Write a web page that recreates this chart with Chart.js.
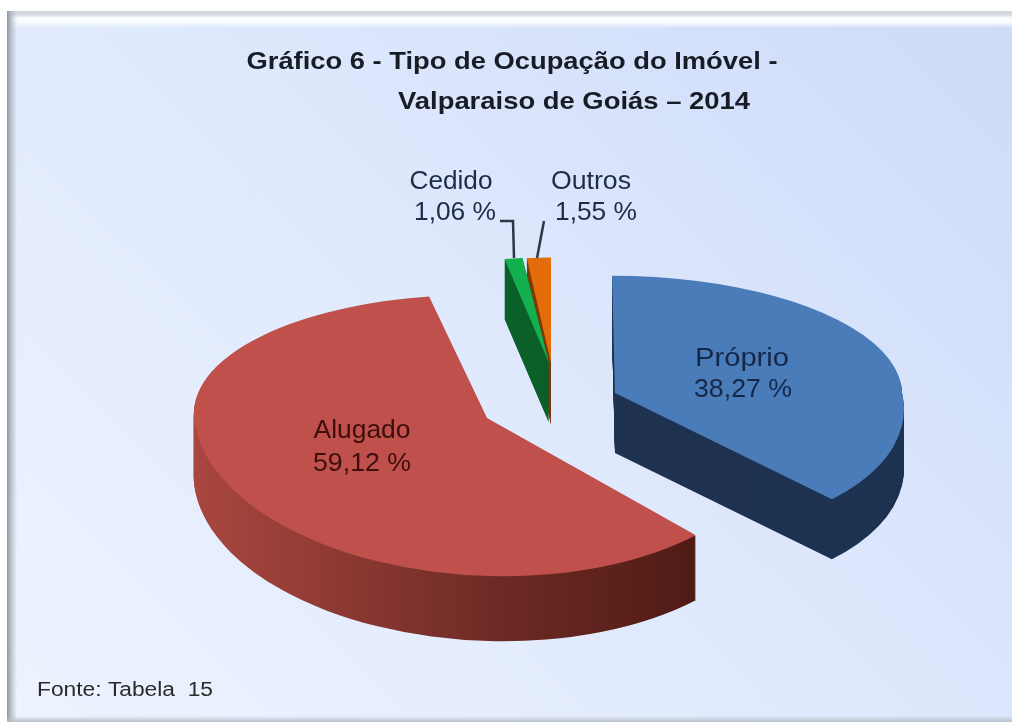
<!DOCTYPE html>
<html lang="pt">
<head>
<meta charset="utf-8">
<title>Gráfico 6</title>
<script src="https://cdn.jsdelivr.net/npm/chart.js@4/dist/chart.umd.min.js"></script>
<style>
    html, body { margin: 0; background: #fff; }
    #quadro {
        position: absolute; left: 7px; top: 11px; width: 1005px; height: 711px;
        box-sizing: border-box;
        background: linear-gradient(45deg, #edf3ff 0%, #dfe9fd 50%, #cddbf8 100%);
    }
    #faixaTopo {
        position: absolute; left: 0; right: 0; top: 0; height: 17px;
        background: linear-gradient(#cfd3da 0, #d9dde6 4px, #fbfdff 7px, #f6faff 12px, rgba(240,246,255,0) 17px);
    }
    #faixaEsq {
        position: absolute; left: 0; top: 0; bottom: 0; width: 10px;
        background: linear-gradient(90deg, #8a929c 0, #b3bac4 3px, rgba(220,230,250,0) 10px);
    }
    #faixaBase {
        position: absolute; left: 0; right: 0; bottom: 0; height: 6px;
        background: linear-gradient(rgba(220,230,250,0), #b9c0ca);
    }
    canvas { position: absolute; left: 0; top: 0; }
</style>
</head>
<body>
<div id="quadro"><div id="faixaTopo"></div><div id="faixaEsq"></div><div id="faixaBase"></div></div>
<canvas id="grafico" width="1012" height="725"></canvas>
<script>
const categorias = ['Próprio', 'Alugado', 'Cedido', 'Outros'];
const valores = [38.27, 59.12, 1.06, 1.55];
const rotulos = ['38,27 %', '59,12 %', '1,06 %', '1,55 %'];

const COLORES = ['#4a7cba', '#bf504c', '#12b04f', '#e46c0a'];
const LATERAIS = [
    ['#1f3552', '#1f3350', '#1d3150'],
    ['#a8463f', '#6c2a24', '#4f1a14'],
    ['#0a6a2c', '#0a5f28', '#0a5a26'],
    ['#8a4508', '#7a3a05', '#6e3404']
];

// centro de cada fatia; metade de tras e da frente achatadas em separado (falsa perspectiva)
const FATIAS = [
    { i: 1, cx: 487, cy: 418, sx: 1, syTras: 0.42, syFrente: 0.54, skTras: 0.035, skFrente: 0.055, prof: 65 },
    { i: 0, cx: 615, cy: 393, sx: 0.98, syTras: 0.40, syFrente: 0.49, skTras: 0.01, skFrente: 0.11, prof: 60 },
    { i: 3, cx: 551, cy: 363, sx: 0.85, syTras: 0.36, syFrente: 0.36, skTras: 0, skFrente: 0, prof: 62 },
    { i: 2, cx: 549, cy: 363, sx: 0.93, syTras: 0.36, syFrente: 0.36, skTras: 0, skFrente: 0, prof: 60 }
];

const TEXTOS = [
    { t: 'Gráfico 6 - Tipo de Ocupação do Imóvel -', x: 512, y: 62, f: 'bold 24px', w: 531, c: '#181c26' },
    { t: 'Valparaiso de Goiás – 2014', x: 574, y: 102, f: 'bold 24px', w: 352, c: '#181c26' },
    { t: categorias[0], x: 742, y: 359, f: '25px', w: 94, c: '#14284a' },
    { t: rotulos[0], x: 743, y: 390, f: '25px', w: 98, c: '#14284a' },
    { t: categorias[1], x: 362, y: 431, f: '25px', w: 97, c: '#3c0f0c' },
    { t: rotulos[1], x: 362, y: 464, f: '25px', w: 98, c: '#3c0f0c' },
    { t: categorias[2], x: 451, y: 182, f: '25px', w: 83, c: '#1f2d44' },
    { t: rotulos[2], x: 455, y: 213, f: '25px', w: 82, c: '#1f2d44' },
    { t: categorias[3], x: 591, y: 182, f: '25px', w: 80, c: '#1f2d44' },
    { t: rotulos[3], x: 596, y: 213, f: '25px', w: 82, c: '#1f2d44' },
    { t: 'Fonte: Tabela  15', x: 125, y: 690, f: '20px', w: 176, c: '#2a2a2a' }
];

const LIGACOES = [
    [[500, 221], [513, 221], [514, 258]],
    [[544, 221], [537, 258]]
];

function pintarMetade(ctx, arco, f, dy, sy, sk, frente) {
    ctx.save();
    ctx.transform(f.sx, 0, sk, sy, f.cx, f.cy + dy);
    ctx.translate(-arco.x, -arco.y);
    ctx.beginPath();
    if (frente) {
        ctx.rect(arco.x - 400, arco.y - 0.5, 800, 400);
    } else {
        ctx.rect(arco.x - 400, arco.y - 400, 800, 400.5);
    }
    ctx.clip();
    arco.draw(ctx);
    ctx.restore();
}

function pintarFatia(ctx, arco, f, dy, cor) {
    const original = arco.options;
    arco.options = Object.assign({}, original, { backgroundColor: cor });
    pintarMetade(ctx, arco, f, dy, f.syTras, f.skTras, false);
    pintarMetade(ctx, arco, f, dy, f.syFrente, f.skFrente, true);
    arco.options = original;
}

const pizza3d = {
    id: 'pizza3d',
    beforeDatasetsDraw(chart) {
        const ctx = chart.ctx;
        const arcos = chart.getDatasetMeta(0).data;

        FATIAS.forEach(f => {
            const arco = arcos[f.i];
            const r = arco.outerRadius;
            const grad = ctx.createLinearGradient(arco.x - r, 0, arco.x + r, 0);
            grad.addColorStop(0, LATERAIS[f.i][0]);
            grad.addColorStop(0.5, LATERAIS[f.i][1]);
            grad.addColorStop(0.85, LATERAIS[f.i][2]);
            for (let d = f.prof; d > 0; d--) {
                pintarFatia(ctx, arco, f, d, grad);
            }
            pintarFatia(ctx, arco, f, 0, COLORES[f.i]);
        });
        return false;
    },
    afterDraw(chart) {
        const ctx = chart.ctx;
        ctx.save();
        ctx.strokeStyle = '#2a3a44';
        ctx.lineWidth = 2.5;
        LIGACOES.forEach(l => {
            ctx.beginPath();
            l.forEach((p, n) => (n ? ctx.lineTo(p[0], p[1]) : ctx.moveTo(p[0], p[1])));
            ctx.stroke();
        });
        ctx.textAlign = 'center';
        ctx.textBaseline = 'middle';
        TEXTOS.forEach(o => {
            ctx.font = `${o.f} "Liberation Sans", Arial, sans-serif`;
            ctx.fillStyle = o.c;
            const largura = ctx.measureText(o.t).width;
            ctx.save();
            ctx.translate(o.x, o.y);
            ctx.scale(o.w / largura, 1);
            ctx.fillText(o.t, 0, 0);
            ctx.restore();
        });
        ctx.restore();
    }
};

new Chart(document.getElementById('grafico'), {
    type: 'pie',
    data: {
        labels: categorias,
        datasets: [{ data: valores, backgroundColor: COLORES, borderWidth: 0 }]
    },
    options: {
        responsive: false,
        animation: false,
        radius: 293,
        rotation: 0,
        plugins: { legend: { display: false }, tooltip: { enabled: false } }
    },
    plugins: [pizza3d]
});
</script>
</body>
</html>
